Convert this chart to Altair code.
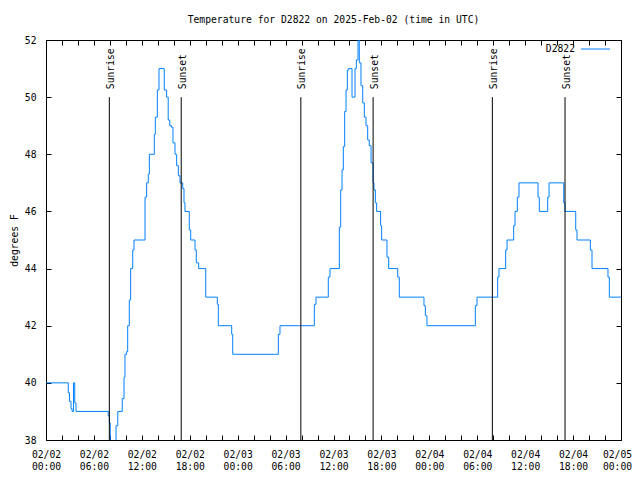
import json
import altair as alt
import pandas as pd

# ---- data ----
hours = [0, 2.79, 2.94, 3.13, 3.26, 3.44, 3.6, 3.76, 7.80, 7.93, 8.05, 8.26, 8.77, 8.99,
         9.55, 9.77, 9.89, 10.1, 10.23, 10.43, 10.6, 10.86, 11.02, 12.4, 12.6, 12.81, 12.94,
         13.56, 13.69, 13.94, 14.15, 14.81, 15.1, 15.3, 15.5, 15.7, 15.9, 16.15, 16.36, 16.57,
         16.78, 17.12, 17.28, 17.4, 17.94, 18.12, 18.66, 18.82, 19.12, 20.0, 21.45, 21.58,
         23.25, 23.38, 29.09, 29.3, 33.6, 33.81, 35.35, 35.56, 36.73, 36.9, 37.07, 37.23,
         37.4, 37.57, 37.73, 37.9, 38.32, 38.69, 38.86, 39.07, 39.23, 39.44, 39.66, 39.86,
         40.07, 40.28, 40.48, 40.7, 40.95, 41.07, 41.24, 41.4, 41.9, 42.03, 42.7, 42.91,
         44.04, 44.24, 47.33, 47.5, 47.7, 53.76, 53.97, 56.56, 56.72, 57.56, 57.73, 58.56,
         58.73, 59.02, 59.23, 61.61, 61.77, 62.82, 62.99, 64.83, 64.99, 66.33, 66.49, 68.16,
         68.37, 70.37, 70.54, 72.0]
temps = [40, 39.65, 39.35, 39.1, 39.0, 40.0, 39.3, 39.0, 38.85, 38.6, 37.8, 37.5, 38.5, 39.0,
         39.45, 40.2, 41.0, 41.1, 42.0, 42.9, 44.0, 44.65, 45.0, 46.5, 47.0, 47.3, 48.0,
         48.7, 49.3, 50.25, 51.0, 50.25, 50.0, 49.2, 49.0, 48.95, 48.4, 48.0, 47.6, 47.25,
         47.0, 46.8, 46.3, 46.0, 45.35, 45.0, 44.65, 44.2, 44.0, 43.0, 42.75, 42.0,
         41.7, 41.0, 41.7, 42.0, 42.75, 43.0, 43.7, 44.0, 45.45, 46.75, 47.45, 48.27,
         49.5, 50.25, 50.95, 51.0, 50.0, 51.0, 51.3, 52.3, 51.2, 50.4, 49.8, 49.3,
         49.0, 48.5, 48.3, 47.7, 47.0, 46.75, 46.3, 46.0, 45.5, 45.0, 44.4, 44.0,
         43.7, 43.0, 42.7, 42.35, 42.0, 42.7, 43.0, 43.7, 44.0, 44.65, 45.0, 45.5,
         46.0, 46.5, 47.0, 46.5, 46.0, 46.5, 47.0, 46.3, 46.0, 45.35, 45.0, 44.65,
         44.0, 43.7, 43.0, 43.0]

sunrise_hours = [7.93, 31.91, 55.89]
sunset_hours = [16.93, 40.96, 64.99]

x_tick_values = list(range(0, 73, 2))
tick_dates = ["02/02", "02/02", "02/02", "02/02", "02/03", "02/03", "02/03", "02/03",
              "02/04", "02/04", "02/04", "02/04", "02/05"]
tick_times = ["00:00", "06:00", "12:00", "18:00", "00:00", "06:00", "12:00", "18:00",
              "00:00", "06:00", "12:00", "18:00", "00:00"]
y_tick_values = [38, 40, 42, 44, 46, 48, 50, 52]

series_name = "D2822"
title_text = "Temperature for D2822 on 2025-Feb-02 (time in UTC)"
y_title = "degrees F"

FONT = "DejaVu Sans Mono"
FS = 9.7
BLUE = "#0080ff"

df = pd.DataFrame({"hour": hours, "temp": temps})
sun = pd.DataFrame({
    "hour": sunrise_hours + sunset_hours,
    "label": ["Sunrise"] * len(sunrise_hours) + ["Sunset"] * len(sunset_hours),
})
legend_df = pd.DataFrame({"name": [series_name]})

label_expr = (
    "datum.value % 6 == 0 ? ["
    + json.dumps(tick_dates) + "[datum.value / 6], "
    + json.dumps(tick_times) + "[datum.value / 6]] : ''"
)

xscale = alt.Scale(domain=[0, 72], nice=False, zero=False)
yscale = alt.Scale(domain=[38, 52], nice=False, zero=False)

common_axis = dict(tickSize=5, offset=-5, domain=False, grid=False, tickColor="black",
                   tickWidth=1, labelFont=FONT, labelFontSize=FS, labelColor="black")

line = alt.Chart(df).mark_line(
    interpolate="step-after", clip=True, color=BLUE, strokeWidth=1
).encode(
    x=alt.X("hour:Q", scale=xscale, axis=alt.Axis(
        orient="bottom", values=x_tick_values, labelExpr=label_expr, labelOverlap=False,
        labelFlush=False, labelBound=False, labelPadding=9, labelLineHeight=12,
        labelOffset={"condition": {"test": "datum.value == 72", "value": -4}, "value": 0},
        title=None, **common_axis)),
    y=alt.Y("temp:Q", scale=yscale, axis=alt.Axis(
        orient="left", values=y_tick_values, labelPadding=10, title=y_title,
        titleFont=FONT, titleFontSize=FS, titleFontWeight="normal", titleColor="black",
        titlePadding=5, **common_axis)),
)

rules = alt.Chart(sun).mark_rule(color="black", strokeWidth=1).encode(
    x=alt.X("hour:Q", scale=xscale, axis=alt.Axis(
        orient="top", values=x_tick_values, labels=False, title=None, **common_axis)),
    y=alt.Y(datum=50, scale=yscale, axis=alt.Axis(
        orient="right", values=y_tick_values, labels=False, title=None, **common_axis)),
    y2=alt.Y2(datum=38),
)

sun_text = alt.Chart(sun).mark_text(
    angle=270, align="left", baseline="middle", dx=8, dy=1.5,
    font=FONT, fontSize=FS, color="black"
).encode(
    x=alt.X("hour:Q", scale=xscale, axis=None),
    y=alt.Y(datum=50, scale=yscale, axis=None),
    text="label:N",
)

legend_text = alt.Chart(legend_df).mark_text(
    align="right", baseline="middle", font=FONT, fontSize=FS, color="black"
).encode(x=alt.value(529), y=alt.value(9), text="name:N")

legend_line = alt.Chart(legend_df).mark_rule(color=BLUE, strokeWidth=1).encode(
    x=alt.value(535), x2=alt.value(564), y=alt.value(9), detail="name:N")

chart = alt.layer(line, rules, sun_text, legend_text, legend_line).resolve_axis(
    x="independent", y="independent"
).properties(
    width=575, height=400,
    title=alt.TitleParams(title_text, font=FONT, fontSize=FS, fontWeight="normal",
                          color="black", offset=10, anchor="middle"),
    autosize=alt.AutoSizeParams(type="none"),
    padding={"left": 38, "top": 32, "right": 11, "bottom": 32},
    background="white",
).configure_view(stroke="black", strokeWidth=1)

chart.save("out.html", embed_options={"renderer": "svg", "actions": False})
